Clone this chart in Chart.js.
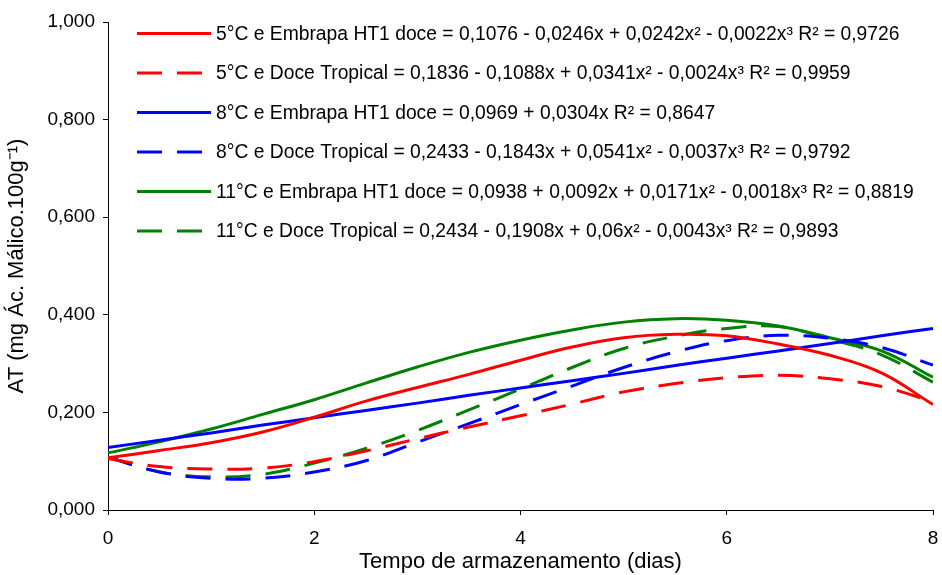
<!DOCTYPE html>
<html>
<head>
<meta charset="utf-8">
<script src="https://cdn.jsdelivr.net/npm/chart.js@4.4.1/dist/chart.umd.min.js"></script>
<style>
  html, body { margin: 0; padding: 0; background: #fff; }
  #wrap { width: 942px; height: 575px; }
</style>
</head>
<body>
<div id="wrap"><canvas id="atChart"></canvas></div>
<script>
// storage days (x) and titratable acidity readings for each curve
const days = [0, 0.5, 1, 1.5, 2, 2.5, 3, 3.5, 4, 4.5, 5, 5.5, 6, 6.5, 7, 7.5, 8];

const embrapa5 = [0.107, 0.122, 0.138, 0.160, 0.190, 0.223, 0.251, 0.278, 0.307, 0.334, 0.353, 0.360, 0.357, 0.340, 0.317, 0.281, 0.216];
const tropical5 = [0.105, 0.089, 0.084, 0.086, 0.099, 0.121, 0.146, 0.170, 0.193, 0.217, 0.242, 0.259, 0.271, 0.276, 0.269, 0.253, 0.222];
const embrapa8 = [0.128, 0.143, 0.158, 0.174, 0.189, 0.204, 0.219, 0.235, 0.250, 0.265, 0.280, 0.296, 0.311, 0.326, 0.341, 0.357, 0.372];
const tropical8 = [0.108, 0.078, 0.065, 0.065, 0.078, 0.101, 0.139, 0.177, 0.216, 0.254, 0.292, 0.324, 0.347, 0.358, 0.352, 0.333, 0.297];
const embrapa11 = [0.117, 0.140, 0.166, 0.196, 0.226, 0.260, 0.293, 0.323, 0.348, 0.369, 0.385, 0.392, 0.389, 0.377, 0.353, 0.326, 0.272];
const tropical11 = [0.108, 0.078, 0.068, 0.073, 0.096, 0.126, 0.163, 0.205, 0.248, 0.292, 0.331, 0.356, 0.372, 0.376, 0.350, 0.318, 0.262];

const seriesLabels = [
    '5°C e Embrapa HT1 doce = 0,1076 - 0,0246x + 0,0242x² - 0,0022x³ R² = 0,9726',
    '5°C e Doce Tropical = 0,1836 - 0,1088x + 0,0341x² - 0,0024x³ R² = 0,9959',
    '8°C e Embrapa HT1 doce = 0,0969 + 0,0304x R² = 0,8647',
    '8°C e Doce Tropical = 0,2433 - 0,1843x + 0,0541x² - 0,0037x³ R² = 0,9792',
    '11°C e Embrapa HT1 doce = 0,0938 + 0,0092x + 0,0171x² - 0,0018x³ R² = 0,8819',
    '11°C e Doce Tropical = 0,2434 - 0,1908x + 0,06x² - 0,0043x³ R² = 0,9893'
];

const xTickLabels = ['0', '2', '4', '6', '8'];
const yTickLabels = ['0,000', '0,200', '0,400', '0,600', '0,800', '1,000'];

const FONT = "'Liberation Sans', Arial, sans-serif";
const DASH = [25, 15];

function toPoints(values) {
    return values.map((v, i) => ({ x: days[i], y: v }));
}

function makeSet(label, values, color, dashed) {
    return {
        label: label,
        data: toPoints(values),
        borderColor: color,
        backgroundColor: color,
        borderWidth: 3,
        borderDash: dashed ? DASH : [],
        pointRadius: 0,
        tension: 0.4,
        fill: false
    };
}

// legend drawn inside the plot, top-left, one entry per row
const insideLegend = {
    id: 'insideLegend',
    afterDraw(chart) {
        const ctx = chart.ctx;
        const area = chart.chartArea;
        const x0 = area.left + 29;
        const lineLen = 74;
        let y = area.top + 11.5;
        ctx.save();
        ctx.font = '19.3px ' + FONT;
        ctx.textBaseline = 'middle';
        ctx.textAlign = 'left';
        chart.data.datasets.forEach(ds => {
            ctx.beginPath();
            ctx.strokeStyle = ds.borderColor;
            ctx.lineWidth = 3;
            ctx.setLineDash(ds.borderDash);
            ctx.moveTo(x0, y);
            ctx.lineTo(x0 + lineLen, y);
            ctx.stroke();
            ctx.setLineDash([]);
            ctx.fillStyle = '#000';
            ctx.fillText(ds.label, x0 + lineLen + 5, y + 1);
            y += 39.5;
        });
        ctx.restore();
    }
};

document.addEventListener('DOMContentLoaded', function() {
    const ctx = document.getElementById('atChart').getContext('2d');

    new Chart(ctx, {
        type: 'line',
        data: {
            datasets: [
                makeSet(seriesLabels[0], embrapa5, '#FF0000', false),
                makeSet(seriesLabels[1], tropical5, '#FF0000', true),
                makeSet(seriesLabels[2], embrapa8, '#0000FF', false),
                makeSet(seriesLabels[3], tropical8, '#0000FF', true),
                makeSet(seriesLabels[4], embrapa11, '#008000', false),
                makeSet(seriesLabels[5], tropical11, '#008000', true)
            ]
        },
        plugins: [insideLegend],
        options: {
            responsive: true,
            maintainAspectRatio: false,
            animation: false,
            layout: {
                padding: { top: 22, right: 0, bottom: 0, left: 0 }
            },
            plugins: {
                legend: { display: false },
                tooltip: { enabled: false }
            },
            scales: {
                x: {
                    type: 'linear',
                    min: 0,
                    max: 8,
                    afterFit: function(scale) {
                        scale.height = 65;
                        scale.paddingRight = 9;
                    },
                    ticks: {
                        stepSize: 2,
                        color: '#000',
                        padding: 12,
                        maxRotation: 0,
                        font: { size: 19, family: FONT },
                        callback: function(value) {
                            return xTickLabels[Math.round(value / 2)];
                        }
                    },
                    grid: {
                        drawOnChartArea: false,
                        drawTicks: true,
                        tickLength: 5,
                        color: '#000'
                    },
                    border: { display: true, color: '#000', width: 1 },
                    title: {
                        display: true,
                        text: 'Tempo de armazenamento (dias)',
                        color: '#000',
                        font: { size: 22, family: FONT },
                        padding: { top: 0, bottom: 0 }
                    }
                },
                y: {
                    min: 0,
                    max: 1,
                    afterFit: function(scale) { scale.width = 108; },
                    ticks: {
                        stepSize: 0.2,
                        color: '#000',
                        padding: 8,
                        font: { size: 19, family: FONT },
                        callback: function(value) {
                            return yTickLabels[Math.round(value / 0.2)];
                        }
                    },
                    grid: {
                        drawOnChartArea: false,
                        drawTicks: true,
                        tickLength: 5,
                        color: '#000'
                    },
                    border: { display: true, color: '#000', width: 1 },
                    title: {
                        display: true,
                        text: 'AT (mg Ác. Málico.100g⁻¹)',
                        color: '#000',
                        font: { size: 22, family: FONT },
                        padding: { top: 4, bottom: 0 }
                    }
                }
            }
        }
    });
});
</script>
</body>
</html>
